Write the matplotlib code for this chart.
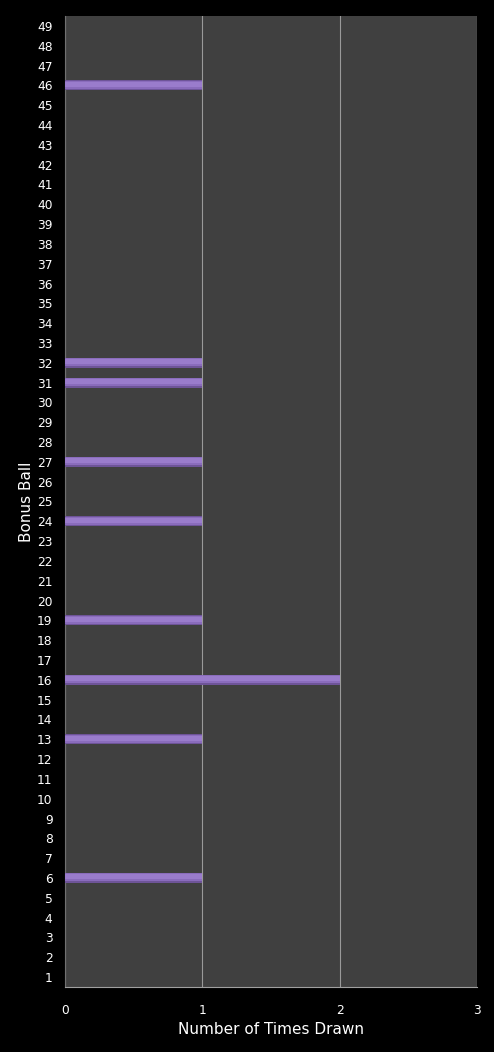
import matplotlib
matplotlib.use("Agg")
import matplotlib.pyplot as plt
import numpy as np

balls = list(range(1, 50))
drawn_balls = [6, 13, 16, 19, 24, 27, 31, 32, 46]
drawn_counts = [1, 1, 2, 1, 1, 1, 1, 1, 1]
x_ticks = [0, 1, 2, 3]

fig = plt.figure(figsize=(4.94, 10.52), dpi=100, facecolor="black")
ax = fig.add_axes([65/494, 65/1052, 412/494, 971/1052])
ax.set_facecolor("#404040")

# bars with a simple shaded look
yb = np.array(drawn_balls, dtype=float)
ax.barh(yb, drawn_counts, height=0.5, color="#6e5498", zorder=3)
ax.barh(yb + 0.03, drawn_counts, height=0.40, color="#8a6cbc", zorder=4)
ax.barh(yb + 0.06, drawn_counts, height=0.26, color="#9a7ccc", zorder=5)

ax.set_xlim(0, 3)
ax.set_ylim(0.5, 49.5)
ax.set_xticks(x_ticks)
ax.set_yticks(balls)
ax.set_yticklabels([str(b) for b in balls])
ax.xaxis.grid(True, color="#9a9a9a", linewidth=0.8, zorder=1)
ax.set_axisbelow(True)
ax.tick_params(axis="both", colors="white", labelsize=8.8, length=0)
ax.tick_params(axis="x", pad=12)
ax.tick_params(axis="y", pad=9)
for s in ["top", "right"]:
    ax.spines[s].set_visible(False)
ax.spines["left"].set_color("#707070")
ax.spines["bottom"].set_color("#a0a0a0")
ax.set_xlabel("Number of Times Drawn", color="white", fontsize=11, labelpad=4)
ax.set_ylabel("Bonus Ball", color="white", fontsize=11)
ax.yaxis.set_label_coords(-0.075, 0.5)

fig.savefig("out.png", dpi=100, facecolor="black")
